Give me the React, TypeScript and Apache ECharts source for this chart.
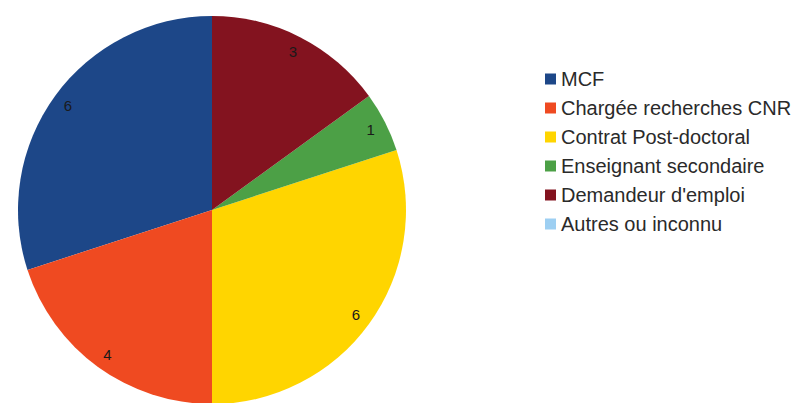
import React, { useEffect, useRef } from "react";
import * as echarts from "echarts";

const categories = [
  "MCF",
  "Chargée recherches CNRS",
  "Contrat Post-doctoral",
  "Enseignant secondaire",
  "Demandeur d'emploi",
  "Autres ou inconnu",
];
const values = [6, 4, 6, 1, 3, 0];
const palette = ["#1d4788", "#ef4a21", "#ffd500", "#4ca046", "#83131f", "#9dcff2"];

export default function App() {
  const ref = useRef<HTMLDivElement>(null);
  useEffect(() => {
    if (!ref.current) return;
    const chart = echarts.init(ref.current, undefined, { renderer: "svg" });
    const data = categories.map((name, i) => ({ name, value: values[i] }));
    chart.setOption({
      animation: false,
      color: palette,
      legend: {
        orient: "vertical",
        left: 540,
        top: 64,
        itemWidth: 11,
        itemHeight: 11,
        itemGap: 9,
        icon: "rect",
        textStyle: {
          fontFamily: "Liberation Sans, Arial, sans-serif",
          fontSize: 20,
          color: "#2a2a2a",
        },
        data: categories,
      },
      series: [
        {
          type: "pie",
          center: [212, 210],
          radius: [0, 194],
          startAngle: 90,
          clockwise: false,
          silent: true,
          label: { show: false },
          labelLine: { show: false },
          data,
        },
        {
          type: "pie",
          center: [212, 210],
          radius: [156, 194],
          startAngle: 90,
          clockwise: false,
          silent: true,
          itemStyle: { color: "rgba(0,0,0,0)" },
          label: {
            show: true,
            position: "inside",
            fontFamily: "Liberation Sans, Arial, sans-serif",
            fontSize: 15,
            color: "#1a1a1a",
            formatter: (p: any) => (p.value ? String(p.value) : ""),
          },
          labelLine: { show: false },
          data,
        },
      ],
    });
    return () => chart.dispose();
  }, []);
  return (
    <div
      ref={ref}
      style={{ position: "absolute", left: 0, top: 0, width: 791, height: 403, background: "#fff" }}
    />
  );
}
